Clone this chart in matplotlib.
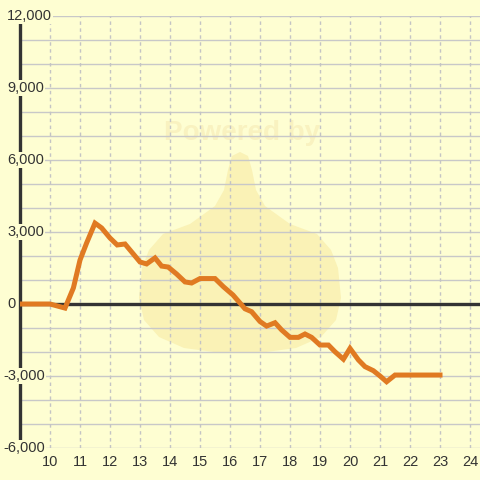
import matplotlib
matplotlib.use("Agg")
import matplotlib.pyplot as plt
import matplotlib.transforms as mtransforms
from matplotlib.patches import Polygon

plt.rcParams['font.family'] = ['Liberation Sans', 'DejaVu Sans']

# data (hours, value)
hours = [9.0, 10.0, 10.5, 10.78, 11.0, 11.22, 11.5, 11.72, 12.0, 12.24, 12.5, 12.78,
         13.0, 13.22, 13.5, 13.72, 13.94, 14.22, 14.5, 14.72, 15.0, 15.5, 15.78, 16.1,
         16.5, 16.72, 17.0, 17.22, 17.5, 17.72, 18.0, 18.28, 18.5, 18.72, 19.0, 19.28,
         19.5, 19.78, 20.0, 20.28, 20.5, 20.78, 21.0, 21.22, 21.5, 23.0]
values = [0, 0, -170, 670, 1830, 2540, 3370, 3170, 2750, 2460, 2500, 2080,
          1750, 1670, 1920, 1580, 1540, 1250, 920, 875, 1060, 1060, 720, 375,
          -200, -320, -730, -920, -780, -1080, -1390, -1390, -1250, -1390, -1710, -1710,
          -1990, -2300, -1850, -2330, -2610, -2780, -3000, -3240, -2960, -2960]

x_ticks = list(range(10, 25))
y_label_ticks = [12000, 9000, 6000, 3000, 0, -3000, -6000]
y_grid = list(range(-6000, 12001, 1000))

bg = '#FEFED2'
fig = plt.figure(figsize=(4.8, 4.8), dpi=100, facecolor=bg)
ax = fig.add_axes([20/480, 32/480, 460/480, 432/480])
ax.set_facecolor(bg)
ax.set_xlim(9.0, 24.333)
ax.set_ylim(-6000, 12000)

# watermark (decorative drop shape, figure pixel coordinates), behind the grid
right = [(240, 152), (248, 156), (252, 170), (256, 190), (265, 206), (290, 224),
         (317, 234), (331, 250), (338, 268), (341, 298), (336, 320), (321, 337),
         (296, 348), (266, 352), (240, 353)]
left = [(480 - px, py) for px, py in reversed(right[1:-1])]
shape = [(px / 480, 1 - py / 480) for px, py in right + left]
ax.add_patch(Polygon(shape, closed=True, transform=fig.transFigure,
                     fc='#FAF2B6', ec='none', zorder=0.5, clip_on=False))
ax.text(242/480, 1 - 133/480, 'Powered by', transform=fig.transFigure,
        ha='center', va='center', fontsize=20, fontweight='bold',
        color='#F9F2C0', zorder=0.6)

for y in y_grid:
    ax.axhline(y, color='#C8C8C8', lw=1, zorder=1)
for x in x_ticks:
    ax.axvline(x, color='#C4C4C4', lw=1, ls=(0, (2.5, 2.5)), zorder=1)

ax.axhline(0, color='#333333', lw=2.4, zorder=2)
ax.plot(hours, values, color='#E07A22', lw=3.6, solid_joinstyle='miter', zorder=3)

for s in ['top', 'right', 'bottom']:
    ax.spines[s].set_visible(False)
ax.spines['left'].set_color('#333333')
ax.spines['left'].set_linewidth(2.4)
ax.spines['left'].set_zorder(2.5)

ax.set_xticks(x_ticks)
ax.set_xticklabels([str(v) for v in x_ticks], fontsize=10.5, color='#333333')
ax.tick_params(axis='x', length=0, pad=5)
ax.set_yticks([])

trans = mtransforms.blended_transform_factory(fig.transFigure, ax.transData)
for v in y_label_ticks:
    xpos = (3 if v < 0 else 7) / 480
    ax.text(xpos, v, f'{v:,}', transform=trans, ha='left', va='center', fontsize=10.5,
            color='#333333', zorder=4, clip_on=False,
            bbox=dict(boxstyle='square,pad=0.1', fc=bg, ec='none'))

fig.savefig('out.png', dpi=100, facecolor=bg)
